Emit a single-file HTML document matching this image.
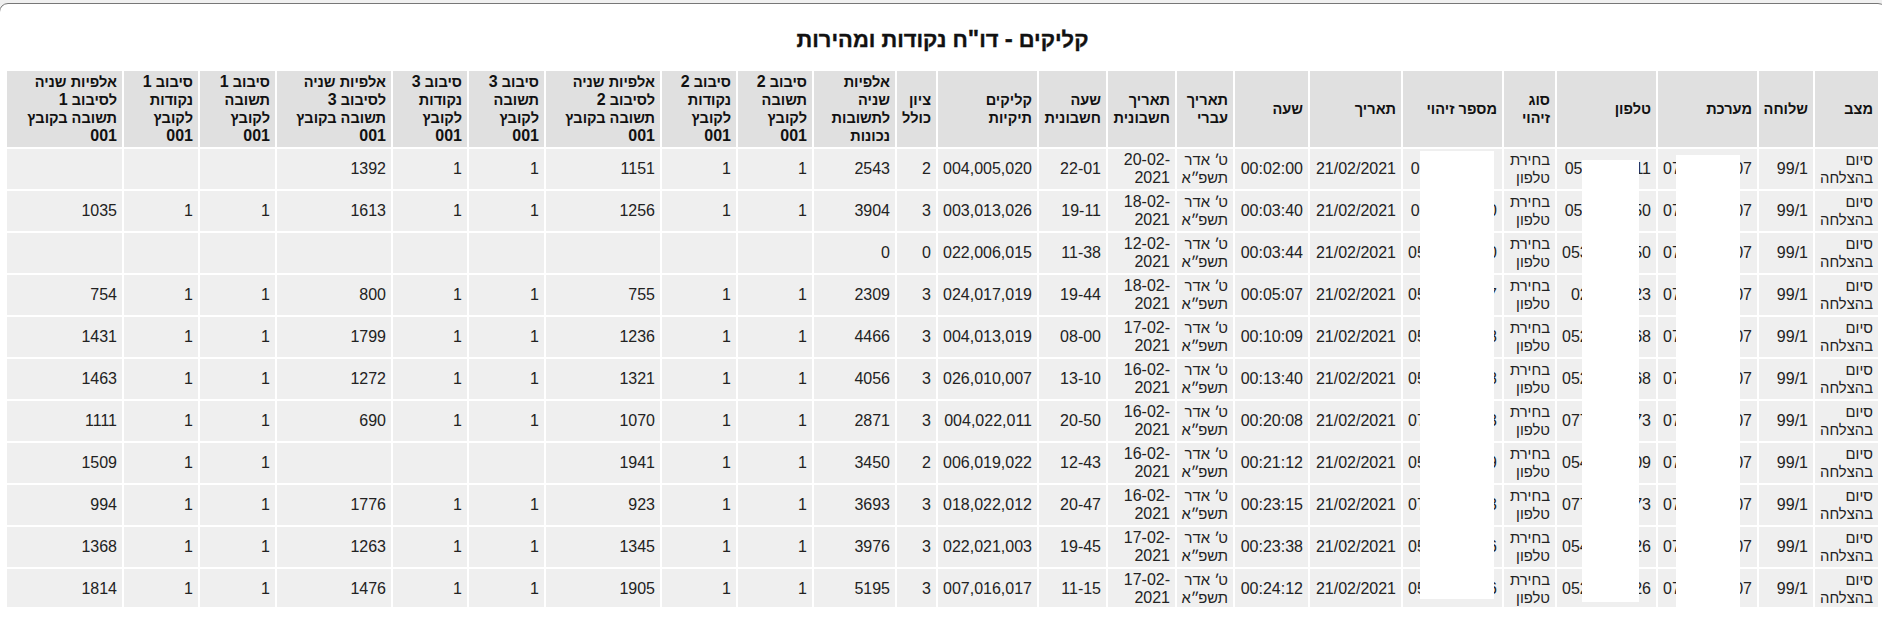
<!DOCTYPE html>
<html lang="he" dir="rtl">
<head>
<meta charset="utf-8">
<title>קליקים - דו"ח נקודות ומהירות</title>
<style>
html,body{margin:0;padding:0}
body{width:1882px;height:629px;overflow:hidden;background:#f0f0f0;font-family:"Liberation Sans",Arial,sans-serif;font-size:16px;color:#222;position:relative;direction:rtl}
#page{position:absolute;left:0;top:0;width:1882px;height:629px;overflow:hidden}
#frame{position:absolute;left:-1px;top:3px;width:1886px;height:700px;border:1px solid #777;border-radius:9px;background:#fff}
h1{position:absolute;left:4px;top:25px;width:1877px;margin:0;text-align:center;font-size:21.9px;-webkit-text-stroke:0.35px #111;line-height:28px;font-weight:bold;color:#111;white-space:nowrap}
h1 span{font-size:24px}
.c{position:absolute;box-sizing:border-box;padding:0 5px;display:flex;align-items:center;background:#efefef;line-height:18px;white-space:nowrap}
.c>span{display:block;width:100%;text-align:right;font-size:14.8px}
.h{background:#e0e0e0;font-weight:bold;color:#111}
.h>span{font-size:14.55px}
.n,.c>span.n{font-size:16px}
.c>span.n{direction:ltr}
.x{letter-spacing:-0.25px}
.g{letter-spacing:-1.5px}
.z{visibility:hidden}
.l{padding-top:2px}
.w{position:absolute;background:#fff}
</style>
</head>
<body>
<div id="page">
<div id="frame"></div>
<h1>קליקים <span>-</span> דו<span>"</span>ח נקודות ומהירות</h1>
<div class="c h" style="left:1815px;top:71px;width:63px;height:76px"><span>מצב</span></div>
<div class="c h" style="left:1759px;top:71px;width:54px;height:76px"><span>שלוחה</span></div>
<div class="c h" style="left:1658px;top:71px;width:99px;height:76px"><span>מערכת</span></div>
<div class="c h" style="left:1557px;top:71px;width:99px;height:76px"><span>טלפון</span></div>
<div class="c h" style="left:1504px;top:71px;width:51px;height:76px"><span>סוג<br>זיהוי</span></div>
<div class="c h" style="left:1403px;top:71px;width:99px;height:76px"><span>מספר זיהוי</span></div>
<div class="c h" style="left:1310px;top:71px;width:91px;height:76px"><span>תאריך</span></div>
<div class="c h" style="left:1235px;top:71px;width:73px;height:76px"><span>שעה</span></div>
<div class="c h" style="left:1177px;top:71px;width:56px;height:76px"><span>תאריך<br>עברי</span></div>
<div class="c h" style="left:1108px;top:71px;width:67px;height:76px"><span>תאריך<br>חשבונית</span></div>
<div class="c h" style="left:1039px;top:71px;width:67px;height:76px"><span>שעה<br>חשבונית</span></div>
<div class="c h" style="left:938px;top:71px;width:99px;height:76px"><span>קליקים<br>תיקיות</span></div>
<div class="c h" style="left:897px;top:71px;width:39px;height:76px"><span>ציון<br>כולל</span></div>
<div class="c h" style="left:814px;top:71px;width:81px;height:76px"><span>אלפיות<br>שניה<br>לתשובות<br>נכונות</span></div>
<div class="c h" style="left:738px;top:71px;width:74px;height:76px"><span>סיבוב <span class="n">2</span><br>תשובה<br>לקובץ<br><span class="n">001</span></span></div>
<div class="c h" style="left:662px;top:71px;width:74px;height:76px"><span>סיבוב <span class="n">2</span><br>נקודות<br>לקובץ<br><span class="n">001</span></span></div>
<div class="c h" style="left:546px;top:71px;width:114px;height:76px"><span>אלפיות שניה<br>לסיבוב <span class="n">2</span><br>תשובה בקובץ<br><span class="n">001</span></span></div>
<div class="c h" style="left:469px;top:71px;width:75px;height:76px"><span>סיבוב <span class="n">3</span><br>תשובה<br>לקובץ<br><span class="n">001</span></span></div>
<div class="c h" style="left:393px;top:71px;width:74px;height:76px"><span>סיבוב <span class="n">3</span><br>נקודות<br>לקובץ<br><span class="n">001</span></span></div>
<div class="c h" style="left:277px;top:71px;width:114px;height:76px"><span>אלפיות שניה<br>לסיבוב <span class="n">3</span><br>תשובה בקובץ<br><span class="n">001</span></span></div>
<div class="c h" style="left:200px;top:71px;width:75px;height:76px"><span>סיבוב <span class="n">1</span><br>תשובה<br>לקובץ<br><span class="n">001</span></span></div>
<div class="c h" style="left:124px;top:71px;width:74px;height:76px"><span>סיבוב <span class="n">1</span><br>נקודות<br>לקובץ<br><span class="n">001</span></span></div>
<div class="c h" style="left:7px;top:71px;width:115px;height:76px"><span>אלפיות שניה<br>לסיבוב <span class="n">1</span><br>תשובה בקובץ<br><span class="n">001</span></span></div>
<div class="c" style="left:1815px;top:149px;width:63px;height:40px"><span>סיום<br>בהצלחה</span></div>
<div class="c" style="left:1759px;top:149px;width:54px;height:40px"><span class="n">99/1</span></div>
<div class="c" style="left:1658px;top:149px;width:99px;height:40px"><span class="n">0773136507</span></div>
<div class="c" style="left:1557px;top:149px;width:99px;height:40px"><span class="n">05<span class="x">276144</span>11</span></div>
<div class="c" style="left:1504px;top:149px;width:51px;height:40px"><span>בחירת<br>טלפון</span></div>
<div class="c" style="left:1403px;top:149px;width:99px;height:40px"><span class="n">05<span class="x">276144</span>1<span class="z">1</span></span></div>
<div class="c" style="left:1310px;top:149px;width:91px;height:40px"><span class="n">21/02/2021</span></div>
<div class="c" style="left:1235px;top:149px;width:73px;height:40px"><span class="n">00:02:00</span></div>
<div class="c" style="left:1177px;top:149px;width:56px;height:40px"><span>ט<span class="g">׳</span> אדר<br>תשפ<span class="g">״</span>א</span></div>
<div class="c" style="left:1108px;top:149px;width:67px;height:40px"><span class="n">20-02-<br>2021</span></div>
<div class="c" style="left:1039px;top:149px;width:67px;height:40px"><span class="n">22-01</span></div>
<div class="c" style="left:938px;top:149px;width:99px;height:40px"><span class="n">004,005,020</span></div>
<div class="c" style="left:897px;top:149px;width:39px;height:40px"><span class="n">2</span></div>
<div class="c" style="left:814px;top:149px;width:81px;height:40px"><span class="n">2543</span></div>
<div class="c" style="left:738px;top:149px;width:74px;height:40px"><span class="n">1</span></div>
<div class="c" style="left:662px;top:149px;width:74px;height:40px"><span class="n">1</span></div>
<div class="c" style="left:546px;top:149px;width:114px;height:40px"><span class="n">1151</span></div>
<div class="c" style="left:469px;top:149px;width:75px;height:40px"><span class="n">1</span></div>
<div class="c" style="left:393px;top:149px;width:74px;height:40px"><span class="n">1</span></div>
<div class="c" style="left:277px;top:149px;width:114px;height:40px"><span class="n">1392</span></div>
<div class="c" style="left:200px;top:149px;width:75px;height:40px"><span class="n"></span></div>
<div class="c" style="left:124px;top:149px;width:74px;height:40px"><span class="n"></span></div>
<div class="c" style="left:7px;top:149px;width:115px;height:40px"><span class="n"></span></div>
<div class="c" style="left:1815px;top:191px;width:63px;height:40px"><span>סיום<br>בהצלחה</span></div>
<div class="c" style="left:1759px;top:191px;width:54px;height:40px"><span class="n">99/1</span></div>
<div class="c" style="left:1658px;top:191px;width:99px;height:40px"><span class="n">0773136507</span></div>
<div class="c" style="left:1557px;top:191px;width:99px;height:40px"><span class="n">05<span class="x">276811</span>50</span></div>
<div class="c" style="left:1504px;top:191px;width:51px;height:40px"><span>בחירת<br>טלפון</span></div>
<div class="c" style="left:1403px;top:191px;width:99px;height:40px"><span class="n">05<span class="x">276811</span>50</span></div>
<div class="c" style="left:1310px;top:191px;width:91px;height:40px"><span class="n">21/02/2021</span></div>
<div class="c" style="left:1235px;top:191px;width:73px;height:40px"><span class="n">00:03:40</span></div>
<div class="c" style="left:1177px;top:191px;width:56px;height:40px"><span>ט<span class="g">׳</span> אדר<br>תשפ<span class="g">״</span>א</span></div>
<div class="c" style="left:1108px;top:191px;width:67px;height:40px"><span class="n">18-02-<br>2021</span></div>
<div class="c" style="left:1039px;top:191px;width:67px;height:40px"><span class="n">19-11</span></div>
<div class="c" style="left:938px;top:191px;width:99px;height:40px"><span class="n">003,013,026</span></div>
<div class="c" style="left:897px;top:191px;width:39px;height:40px"><span class="n">3</span></div>
<div class="c" style="left:814px;top:191px;width:81px;height:40px"><span class="n">3904</span></div>
<div class="c" style="left:738px;top:191px;width:74px;height:40px"><span class="n">1</span></div>
<div class="c" style="left:662px;top:191px;width:74px;height:40px"><span class="n">1</span></div>
<div class="c" style="left:546px;top:191px;width:114px;height:40px"><span class="n">1256</span></div>
<div class="c" style="left:469px;top:191px;width:75px;height:40px"><span class="n">1</span></div>
<div class="c" style="left:393px;top:191px;width:74px;height:40px"><span class="n">1</span></div>
<div class="c" style="left:277px;top:191px;width:114px;height:40px"><span class="n">1613</span></div>
<div class="c" style="left:200px;top:191px;width:75px;height:40px"><span class="n">1</span></div>
<div class="c" style="left:124px;top:191px;width:74px;height:40px"><span class="n">1</span></div>
<div class="c" style="left:7px;top:191px;width:115px;height:40px"><span class="n">1035</span></div>
<div class="c" style="left:1815px;top:233px;width:63px;height:40px"><span>סיום<br>בהצלחה</span></div>
<div class="c" style="left:1759px;top:233px;width:54px;height:40px"><span class="n">99/1</span></div>
<div class="c" style="left:1658px;top:233px;width:99px;height:40px"><span class="n">0773136507</span></div>
<div class="c" style="left:1557px;top:233px;width:99px;height:40px"><span class="n">0533176450</span></div>
<div class="c" style="left:1504px;top:233px;width:51px;height:40px"><span>בחירת<br>טלפון</span></div>
<div class="c" style="left:1403px;top:233px;width:99px;height:40px"><span class="n">0533176450</span></div>
<div class="c" style="left:1310px;top:233px;width:91px;height:40px"><span class="n">21/02/2021</span></div>
<div class="c" style="left:1235px;top:233px;width:73px;height:40px"><span class="n">00:03:44</span></div>
<div class="c" style="left:1177px;top:233px;width:56px;height:40px"><span>ט<span class="g">׳</span> אדר<br>תשפ<span class="g">״</span>א</span></div>
<div class="c" style="left:1108px;top:233px;width:67px;height:40px"><span class="n">12-02-<br>2021</span></div>
<div class="c" style="left:1039px;top:233px;width:67px;height:40px"><span class="n">11-38</span></div>
<div class="c" style="left:938px;top:233px;width:99px;height:40px"><span class="n">022,006,015</span></div>
<div class="c" style="left:897px;top:233px;width:39px;height:40px"><span class="n">0</span></div>
<div class="c" style="left:814px;top:233px;width:81px;height:40px"><span class="n">0</span></div>
<div class="c" style="left:738px;top:233px;width:74px;height:40px"><span class="n"></span></div>
<div class="c" style="left:662px;top:233px;width:74px;height:40px"><span class="n"></span></div>
<div class="c" style="left:546px;top:233px;width:114px;height:40px"><span class="n"></span></div>
<div class="c" style="left:469px;top:233px;width:75px;height:40px"><span class="n"></span></div>
<div class="c" style="left:393px;top:233px;width:74px;height:40px"><span class="n"></span></div>
<div class="c" style="left:277px;top:233px;width:114px;height:40px"><span class="n"></span></div>
<div class="c" style="left:200px;top:233px;width:75px;height:40px"><span class="n"></span></div>
<div class="c" style="left:124px;top:233px;width:74px;height:40px"><span class="n"></span></div>
<div class="c" style="left:7px;top:233px;width:115px;height:40px"><span class="n"></span></div>
<div class="c" style="left:1815px;top:275px;width:63px;height:40px"><span>סיום<br>בהצלחה</span></div>
<div class="c" style="left:1759px;top:275px;width:54px;height:40px"><span class="n">99/1</span></div>
<div class="c" style="left:1658px;top:275px;width:99px;height:40px"><span class="n">0773136507</span></div>
<div class="c" style="left:1557px;top:275px;width:99px;height:40px"><span class="n">029974323</span></div>
<div class="c" style="left:1504px;top:275px;width:51px;height:40px"><span>בחירת<br>טלפון</span></div>
<div class="c" style="left:1403px;top:275px;width:99px;height:40px"><span class="n">0504167637</span></div>
<div class="c" style="left:1310px;top:275px;width:91px;height:40px"><span class="n">21/02/2021</span></div>
<div class="c" style="left:1235px;top:275px;width:73px;height:40px"><span class="n">00:05:07</span></div>
<div class="c" style="left:1177px;top:275px;width:56px;height:40px"><span>ט<span class="g">׳</span> אדר<br>תשפ<span class="g">״</span>א</span></div>
<div class="c" style="left:1108px;top:275px;width:67px;height:40px"><span class="n">18-02-<br>2021</span></div>
<div class="c" style="left:1039px;top:275px;width:67px;height:40px"><span class="n">19-44</span></div>
<div class="c" style="left:938px;top:275px;width:99px;height:40px"><span class="n">024,017,019</span></div>
<div class="c" style="left:897px;top:275px;width:39px;height:40px"><span class="n">3</span></div>
<div class="c" style="left:814px;top:275px;width:81px;height:40px"><span class="n">2309</span></div>
<div class="c" style="left:738px;top:275px;width:74px;height:40px"><span class="n">1</span></div>
<div class="c" style="left:662px;top:275px;width:74px;height:40px"><span class="n">1</span></div>
<div class="c" style="left:546px;top:275px;width:114px;height:40px"><span class="n">755</span></div>
<div class="c" style="left:469px;top:275px;width:75px;height:40px"><span class="n">1</span></div>
<div class="c" style="left:393px;top:275px;width:74px;height:40px"><span class="n">1</span></div>
<div class="c" style="left:277px;top:275px;width:114px;height:40px"><span class="n">800</span></div>
<div class="c" style="left:200px;top:275px;width:75px;height:40px"><span class="n">1</span></div>
<div class="c" style="left:124px;top:275px;width:74px;height:40px"><span class="n">1</span></div>
<div class="c" style="left:7px;top:275px;width:115px;height:40px"><span class="n">754</span></div>
<div class="c" style="left:1815px;top:317px;width:63px;height:40px"><span>סיום<br>בהצלחה</span></div>
<div class="c" style="left:1759px;top:317px;width:54px;height:40px"><span class="n">99/1</span></div>
<div class="c" style="left:1658px;top:317px;width:99px;height:40px"><span class="n">0773136507</span></div>
<div class="c" style="left:1557px;top:317px;width:99px;height:40px"><span class="n">0527169468</span></div>
<div class="c" style="left:1504px;top:317px;width:51px;height:40px"><span>בחירת<br>טלפון</span></div>
<div class="c" style="left:1403px;top:317px;width:99px;height:40px"><span class="n">0527169468</span></div>
<div class="c" style="left:1310px;top:317px;width:91px;height:40px"><span class="n">21/02/2021</span></div>
<div class="c" style="left:1235px;top:317px;width:73px;height:40px"><span class="n">00:10:09</span></div>
<div class="c" style="left:1177px;top:317px;width:56px;height:40px"><span>ט<span class="g">׳</span> אדר<br>תשפ<span class="g">״</span>א</span></div>
<div class="c" style="left:1108px;top:317px;width:67px;height:40px"><span class="n">17-02-<br>2021</span></div>
<div class="c" style="left:1039px;top:317px;width:67px;height:40px"><span class="n">08-00</span></div>
<div class="c" style="left:938px;top:317px;width:99px;height:40px"><span class="n">004,013,019</span></div>
<div class="c" style="left:897px;top:317px;width:39px;height:40px"><span class="n">3</span></div>
<div class="c" style="left:814px;top:317px;width:81px;height:40px"><span class="n">4466</span></div>
<div class="c" style="left:738px;top:317px;width:74px;height:40px"><span class="n">1</span></div>
<div class="c" style="left:662px;top:317px;width:74px;height:40px"><span class="n">1</span></div>
<div class="c" style="left:546px;top:317px;width:114px;height:40px"><span class="n">1236</span></div>
<div class="c" style="left:469px;top:317px;width:75px;height:40px"><span class="n">1</span></div>
<div class="c" style="left:393px;top:317px;width:74px;height:40px"><span class="n">1</span></div>
<div class="c" style="left:277px;top:317px;width:114px;height:40px"><span class="n">1799</span></div>
<div class="c" style="left:200px;top:317px;width:75px;height:40px"><span class="n">1</span></div>
<div class="c" style="left:124px;top:317px;width:74px;height:40px"><span class="n">1</span></div>
<div class="c" style="left:7px;top:317px;width:115px;height:40px"><span class="n">1431</span></div>
<div class="c" style="left:1815px;top:359px;width:63px;height:40px"><span>סיום<br>בהצלחה</span></div>
<div class="c" style="left:1759px;top:359px;width:54px;height:40px"><span class="n">99/1</span></div>
<div class="c" style="left:1658px;top:359px;width:99px;height:40px"><span class="n">0773136507</span></div>
<div class="c" style="left:1557px;top:359px;width:99px;height:40px"><span class="n">0527169468</span></div>
<div class="c" style="left:1504px;top:359px;width:51px;height:40px"><span>בחירת<br>טלפון</span></div>
<div class="c" style="left:1403px;top:359px;width:99px;height:40px"><span class="n">0527169468</span></div>
<div class="c" style="left:1310px;top:359px;width:91px;height:40px"><span class="n">21/02/2021</span></div>
<div class="c" style="left:1235px;top:359px;width:73px;height:40px"><span class="n">00:13:40</span></div>
<div class="c" style="left:1177px;top:359px;width:56px;height:40px"><span>ט<span class="g">׳</span> אדר<br>תשפ<span class="g">״</span>א</span></div>
<div class="c" style="left:1108px;top:359px;width:67px;height:40px"><span class="n">16-02-<br>2021</span></div>
<div class="c" style="left:1039px;top:359px;width:67px;height:40px"><span class="n">13-10</span></div>
<div class="c" style="left:938px;top:359px;width:99px;height:40px"><span class="n">026,010,007</span></div>
<div class="c" style="left:897px;top:359px;width:39px;height:40px"><span class="n">3</span></div>
<div class="c" style="left:814px;top:359px;width:81px;height:40px"><span class="n">4056</span></div>
<div class="c" style="left:738px;top:359px;width:74px;height:40px"><span class="n">1</span></div>
<div class="c" style="left:662px;top:359px;width:74px;height:40px"><span class="n">1</span></div>
<div class="c" style="left:546px;top:359px;width:114px;height:40px"><span class="n">1321</span></div>
<div class="c" style="left:469px;top:359px;width:75px;height:40px"><span class="n">1</span></div>
<div class="c" style="left:393px;top:359px;width:74px;height:40px"><span class="n">1</span></div>
<div class="c" style="left:277px;top:359px;width:114px;height:40px"><span class="n">1272</span></div>
<div class="c" style="left:200px;top:359px;width:75px;height:40px"><span class="n">1</span></div>
<div class="c" style="left:124px;top:359px;width:74px;height:40px"><span class="n">1</span></div>
<div class="c" style="left:7px;top:359px;width:115px;height:40px"><span class="n">1463</span></div>
<div class="c" style="left:1815px;top:401px;width:63px;height:40px"><span>סיום<br>בהצלחה</span></div>
<div class="c" style="left:1759px;top:401px;width:54px;height:40px"><span class="n">99/1</span></div>
<div class="c" style="left:1658px;top:401px;width:99px;height:40px"><span class="n">0773136507</span></div>
<div class="c" style="left:1557px;top:401px;width:99px;height:40px"><span class="n">0773181673</span></div>
<div class="c" style="left:1504px;top:401px;width:51px;height:40px"><span>בחירת<br>טלפון</span></div>
<div class="c" style="left:1403px;top:401px;width:99px;height:40px"><span class="n">0773181673</span></div>
<div class="c" style="left:1310px;top:401px;width:91px;height:40px"><span class="n">21/02/2021</span></div>
<div class="c" style="left:1235px;top:401px;width:73px;height:40px"><span class="n">00:20:08</span></div>
<div class="c" style="left:1177px;top:401px;width:56px;height:40px"><span>ט<span class="g">׳</span> אדר<br>תשפ<span class="g">״</span>א</span></div>
<div class="c" style="left:1108px;top:401px;width:67px;height:40px"><span class="n">16-02-<br>2021</span></div>
<div class="c" style="left:1039px;top:401px;width:67px;height:40px"><span class="n">20-50</span></div>
<div class="c" style="left:938px;top:401px;width:99px;height:40px"><span class="n">004,022,011</span></div>
<div class="c" style="left:897px;top:401px;width:39px;height:40px"><span class="n">3</span></div>
<div class="c" style="left:814px;top:401px;width:81px;height:40px"><span class="n">2871</span></div>
<div class="c" style="left:738px;top:401px;width:74px;height:40px"><span class="n">1</span></div>
<div class="c" style="left:662px;top:401px;width:74px;height:40px"><span class="n">1</span></div>
<div class="c" style="left:546px;top:401px;width:114px;height:40px"><span class="n">1070</span></div>
<div class="c" style="left:469px;top:401px;width:75px;height:40px"><span class="n">1</span></div>
<div class="c" style="left:393px;top:401px;width:74px;height:40px"><span class="n">1</span></div>
<div class="c" style="left:277px;top:401px;width:114px;height:40px"><span class="n">690</span></div>
<div class="c" style="left:200px;top:401px;width:75px;height:40px"><span class="n">1</span></div>
<div class="c" style="left:124px;top:401px;width:74px;height:40px"><span class="n">1</span></div>
<div class="c" style="left:7px;top:401px;width:115px;height:40px"><span class="n">1111</span></div>
<div class="c" style="left:1815px;top:443px;width:63px;height:40px"><span>סיום<br>בהצלחה</span></div>
<div class="c" style="left:1759px;top:443px;width:54px;height:40px"><span class="n">99/1</span></div>
<div class="c" style="left:1658px;top:443px;width:99px;height:40px"><span class="n">0773136507</span></div>
<div class="c" style="left:1557px;top:443px;width:99px;height:40px"><span class="n">0548456309</span></div>
<div class="c" style="left:1504px;top:443px;width:51px;height:40px"><span>בחירת<br>טלפון</span></div>
<div class="c" style="left:1403px;top:443px;width:99px;height:40px"><span class="n">0548456309</span></div>
<div class="c" style="left:1310px;top:443px;width:91px;height:40px"><span class="n">21/02/2021</span></div>
<div class="c" style="left:1235px;top:443px;width:73px;height:40px"><span class="n">00:21:12</span></div>
<div class="c" style="left:1177px;top:443px;width:56px;height:40px"><span>ט<span class="g">׳</span> אדר<br>תשפ<span class="g">״</span>א</span></div>
<div class="c" style="left:1108px;top:443px;width:67px;height:40px"><span class="n">16-02-<br>2021</span></div>
<div class="c" style="left:1039px;top:443px;width:67px;height:40px"><span class="n">12-43</span></div>
<div class="c" style="left:938px;top:443px;width:99px;height:40px"><span class="n">006,019,022</span></div>
<div class="c" style="left:897px;top:443px;width:39px;height:40px"><span class="n">2</span></div>
<div class="c" style="left:814px;top:443px;width:81px;height:40px"><span class="n">3450</span></div>
<div class="c" style="left:738px;top:443px;width:74px;height:40px"><span class="n">1</span></div>
<div class="c" style="left:662px;top:443px;width:74px;height:40px"><span class="n">1</span></div>
<div class="c" style="left:546px;top:443px;width:114px;height:40px"><span class="n">1941</span></div>
<div class="c" style="left:469px;top:443px;width:75px;height:40px"><span class="n"></span></div>
<div class="c" style="left:393px;top:443px;width:74px;height:40px"><span class="n"></span></div>
<div class="c" style="left:277px;top:443px;width:114px;height:40px"><span class="n"></span></div>
<div class="c" style="left:200px;top:443px;width:75px;height:40px"><span class="n">1</span></div>
<div class="c" style="left:124px;top:443px;width:74px;height:40px"><span class="n">1</span></div>
<div class="c" style="left:7px;top:443px;width:115px;height:40px"><span class="n">1509</span></div>
<div class="c" style="left:1815px;top:485px;width:63px;height:40px"><span>סיום<br>בהצלחה</span></div>
<div class="c" style="left:1759px;top:485px;width:54px;height:40px"><span class="n">99/1</span></div>
<div class="c" style="left:1658px;top:485px;width:99px;height:40px"><span class="n">0773136507</span></div>
<div class="c" style="left:1557px;top:485px;width:99px;height:40px"><span class="n">0773181673</span></div>
<div class="c" style="left:1504px;top:485px;width:51px;height:40px"><span>בחירת<br>טלפון</span></div>
<div class="c" style="left:1403px;top:485px;width:99px;height:40px"><span class="n">0773181673</span></div>
<div class="c" style="left:1310px;top:485px;width:91px;height:40px"><span class="n">21/02/2021</span></div>
<div class="c" style="left:1235px;top:485px;width:73px;height:40px"><span class="n">00:23:15</span></div>
<div class="c" style="left:1177px;top:485px;width:56px;height:40px"><span>ט<span class="g">׳</span> אדר<br>תשפ<span class="g">״</span>א</span></div>
<div class="c" style="left:1108px;top:485px;width:67px;height:40px"><span class="n">16-02-<br>2021</span></div>
<div class="c" style="left:1039px;top:485px;width:67px;height:40px"><span class="n">20-47</span></div>
<div class="c" style="left:938px;top:485px;width:99px;height:40px"><span class="n">018,022,012</span></div>
<div class="c" style="left:897px;top:485px;width:39px;height:40px"><span class="n">3</span></div>
<div class="c" style="left:814px;top:485px;width:81px;height:40px"><span class="n">3693</span></div>
<div class="c" style="left:738px;top:485px;width:74px;height:40px"><span class="n">1</span></div>
<div class="c" style="left:662px;top:485px;width:74px;height:40px"><span class="n">1</span></div>
<div class="c" style="left:546px;top:485px;width:114px;height:40px"><span class="n">923</span></div>
<div class="c" style="left:469px;top:485px;width:75px;height:40px"><span class="n">1</span></div>
<div class="c" style="left:393px;top:485px;width:74px;height:40px"><span class="n">1</span></div>
<div class="c" style="left:277px;top:485px;width:114px;height:40px"><span class="n">1776</span></div>
<div class="c" style="left:200px;top:485px;width:75px;height:40px"><span class="n">1</span></div>
<div class="c" style="left:124px;top:485px;width:74px;height:40px"><span class="n">1</span></div>
<div class="c" style="left:7px;top:485px;width:115px;height:40px"><span class="n">994</span></div>
<div class="c" style="left:1815px;top:527px;width:63px;height:40px"><span>סיום<br>בהצלחה</span></div>
<div class="c" style="left:1759px;top:527px;width:54px;height:40px"><span class="n">99/1</span></div>
<div class="c" style="left:1658px;top:527px;width:99px;height:40px"><span class="n">0773136507</span></div>
<div class="c" style="left:1557px;top:527px;width:99px;height:40px"><span class="n">0548497626</span></div>
<div class="c" style="left:1504px;top:527px;width:51px;height:40px"><span>בחירת<br>טלפון</span></div>
<div class="c" style="left:1403px;top:527px;width:99px;height:40px"><span class="n">0548497626</span></div>
<div class="c" style="left:1310px;top:527px;width:91px;height:40px"><span class="n">21/02/2021</span></div>
<div class="c" style="left:1235px;top:527px;width:73px;height:40px"><span class="n">00:23:38</span></div>
<div class="c" style="left:1177px;top:527px;width:56px;height:40px"><span>ט<span class="g">׳</span> אדר<br>תשפ<span class="g">״</span>א</span></div>
<div class="c" style="left:1108px;top:527px;width:67px;height:40px"><span class="n">17-02-<br>2021</span></div>
<div class="c" style="left:1039px;top:527px;width:67px;height:40px"><span class="n">19-45</span></div>
<div class="c" style="left:938px;top:527px;width:99px;height:40px"><span class="n">022,021,003</span></div>
<div class="c" style="left:897px;top:527px;width:39px;height:40px"><span class="n">3</span></div>
<div class="c" style="left:814px;top:527px;width:81px;height:40px"><span class="n">3976</span></div>
<div class="c" style="left:738px;top:527px;width:74px;height:40px"><span class="n">1</span></div>
<div class="c" style="left:662px;top:527px;width:74px;height:40px"><span class="n">1</span></div>
<div class="c" style="left:546px;top:527px;width:114px;height:40px"><span class="n">1345</span></div>
<div class="c" style="left:469px;top:527px;width:75px;height:40px"><span class="n">1</span></div>
<div class="c" style="left:393px;top:527px;width:74px;height:40px"><span class="n">1</span></div>
<div class="c" style="left:277px;top:527px;width:114px;height:40px"><span class="n">1263</span></div>
<div class="c" style="left:200px;top:527px;width:75px;height:40px"><span class="n">1</span></div>
<div class="c" style="left:124px;top:527px;width:74px;height:40px"><span class="n">1</span></div>
<div class="c" style="left:7px;top:527px;width:115px;height:40px"><span class="n">1368</span></div>
<div class="c l" style="left:1815px;top:569px;width:63px;height:38px"><span>סיום<br>בהצלחה</span></div>
<div class="c l" style="left:1759px;top:569px;width:54px;height:38px"><span class="n">99/1</span></div>
<div class="c l" style="left:1658px;top:569px;width:99px;height:38px"><span class="n">0773136507</span></div>
<div class="c l" style="left:1557px;top:569px;width:99px;height:38px"><span class="n">0527636926</span></div>
<div class="c l" style="left:1504px;top:569px;width:51px;height:38px"><span>בחירת<br>טלפון</span></div>
<div class="c l" style="left:1403px;top:569px;width:99px;height:38px"><span class="n">0527636926</span></div>
<div class="c l" style="left:1310px;top:569px;width:91px;height:38px"><span class="n">21/02/2021</span></div>
<div class="c l" style="left:1235px;top:569px;width:73px;height:38px"><span class="n">00:24:12</span></div>
<div class="c l" style="left:1177px;top:569px;width:56px;height:38px"><span>ט<span class="g">׳</span> אדר<br>תשפ<span class="g">״</span>א</span></div>
<div class="c l" style="left:1108px;top:569px;width:67px;height:38px"><span class="n">17-02-<br>2021</span></div>
<div class="c l" style="left:1039px;top:569px;width:67px;height:38px"><span class="n">11-15</span></div>
<div class="c l" style="left:938px;top:569px;width:99px;height:38px"><span class="n">007,016,017</span></div>
<div class="c l" style="left:897px;top:569px;width:39px;height:38px"><span class="n">3</span></div>
<div class="c l" style="left:814px;top:569px;width:81px;height:38px"><span class="n">5195</span></div>
<div class="c l" style="left:738px;top:569px;width:74px;height:38px"><span class="n">1</span></div>
<div class="c l" style="left:662px;top:569px;width:74px;height:38px"><span class="n">1</span></div>
<div class="c l" style="left:546px;top:569px;width:114px;height:38px"><span class="n">1905</span></div>
<div class="c l" style="left:469px;top:569px;width:75px;height:38px"><span class="n">1</span></div>
<div class="c l" style="left:393px;top:569px;width:74px;height:38px"><span class="n">1</span></div>
<div class="c l" style="left:277px;top:569px;width:114px;height:38px"><span class="n">1476</span></div>
<div class="c l" style="left:200px;top:569px;width:75px;height:38px"><span class="n">1</span></div>
<div class="c l" style="left:124px;top:569px;width:74px;height:38px"><span class="n">1</span></div>
<div class="c l" style="left:7px;top:569px;width:115px;height:38px"><span class="n">1814</span></div>
<div class="w" style="left:1420px;top:151px;width:74px;height:448px"></div>
<div class="w" style="left:1582px;top:160px;width:57px;height:442px"></div>
<div class="w" style="left:1676px;top:155px;width:64px;height:460px"></div>
</div>
</body>
</html>
